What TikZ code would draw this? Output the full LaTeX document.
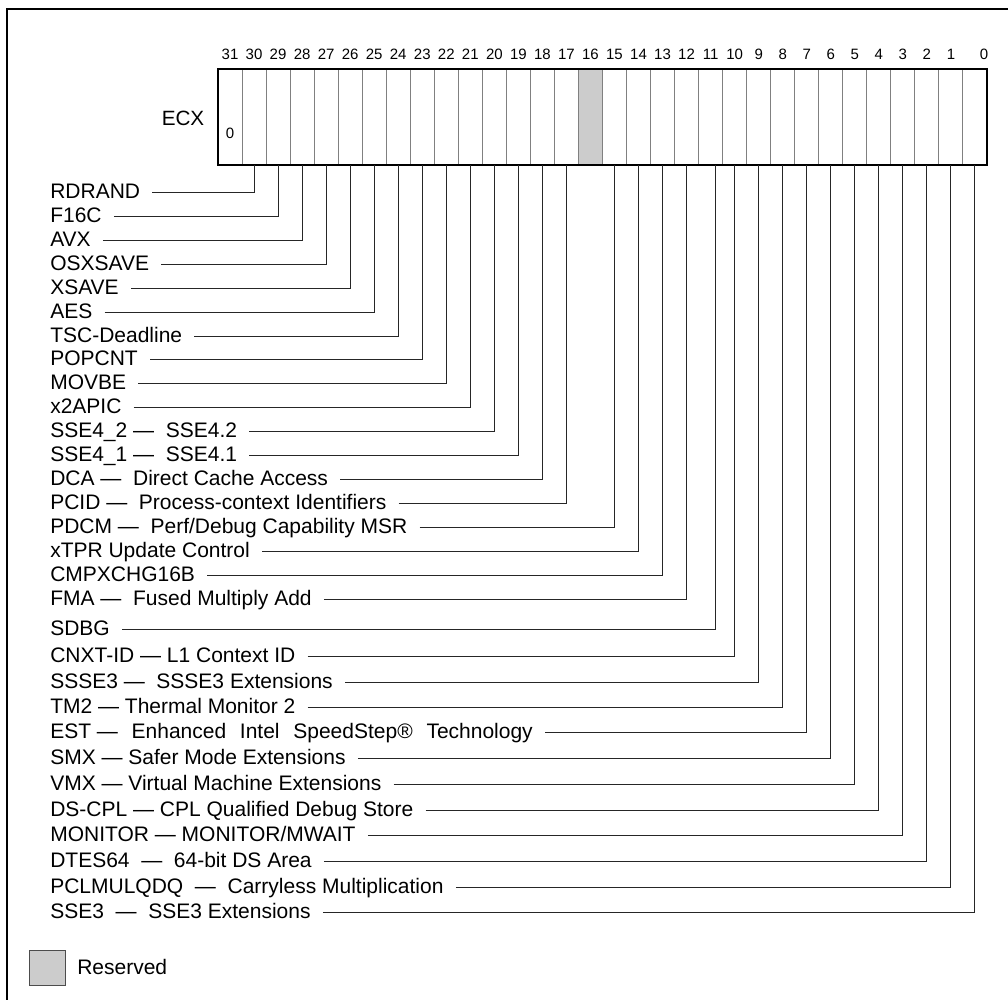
\documentclass[tikz,border=0pt]{standalone}
\usepackage{fontspec}
\setmainfont{Liberation Sans}
\tikzset{
	bitnum/.style={font=\fontsize{11.25}{13}\selectfont, inner sep=0pt},
	feat/.style={anchor=west, inner xsep=9pt, inner ysep=0pt,
		text height=11.25pt, text depth=2.25pt,
		font=\fontsize{15.75}{18}\selectfont},
	wire/.style={draw=black!85, line width=0.75pt},
	cell/.style={draw=black!50, line width=0.75pt},
}
\newcommand{\wgap}{\hspace{10.3pt}}

\begin{document}
\begin{tikzpicture}[x=0.75pt,y=0.75pt,yscale=-1,xscale=1]
\useasboundingbox (0,0) rectangle (1008,1000);

% frame (cut at right and bottom)
\draw [line width=1.7pt]  (7,1000) -- (7,9) -- (1008,9) ;

% register
\fill [gray!40]  (578.5,69) rectangle (602.5,165) ;
\foreach \b in {1,...,31}
	\draw [cell]  ({218+(32-\b)*24.03},69) -- ++(0,96) ;
\draw [line width=1.1pt]  (218,69) rectangle (987,165) ;

\foreach \b in {1,...,31}
	\node [bitnum] (n\b) at ({218+(31.5-\b)*24.03},54) {\b};
\node [bitnum] (n0) at (984,54) {0};
\foreach \b in {0,...,30}
	\coordinate (b\b) at ({218+(31.5-\b)*24.03},165);
\coordinate (b11) at (715,165);

\node [font=\fontsize{15.5}{18}\selectfont] (ecx) at (183,118) {ECX};
\node [bitnum] (zero) at (230,133.5) {0};

% feature flags
\foreach \b/\y/\t in {30/192/RDRAND, 29/216/F16C, 28/240/AVX, 27/264/OSXSAVE,
	26/288/XSAVE, 25/312/AES, 24/336/TSC-Deadline, 23/359.5/POPCNT,
	22/383.5/MOVBE, 21/407.5/x2APIC, 20/431/{SSE4\_2 — ~SSE4.2},
	19/455/{SSE4\_1 — ~SSE4.1}, 18/479/{DCA — ~Direct Cache Access},
	17/503.3/{PCID — ~Process-context Identifiers},
	15/527.7/{PDCM — ~Perf/Debug Capability MSR},
	14/551.7/{xTPR Update Control}, 13/575.7/CMPXCHG16B,
	12/599.7/{FMA — ~Fused Multiply Add}, 11/629/SDBG,
	10/656/{CNXT-ID — L1 Context ID}, 9/682/{SSSE3 — ~SSSE3 Extensions},
	8/707.7/{TM2 — Thermal Monitor 2},
	7/732.7/{EST —\wgap Enhanced\wgap Intel\wgap SpeedStep®\wgap Technology},
	6/758.7/{SMX — Safer Mode Extensions},
	5/784.3/{VMX — Virtual Machine Extensions},
	4/810/{DS-CPL — CPL Qualified Debug Store},
	3/835.7/{MONITOR — MONITOR/MWAIT},
	2/861.3/{DTES64~ — ~64-bit DS Area},
	1/887.3/{PCLMULQDQ~ — ~Carryless Multiplication},
	0/912.3/{SSE3~ — ~SSE3 Extensions}} {
	\node [feat] (f\b) at (38,\y) {\t};
	\draw [wire]  (f\b.east) -| (b\b) ;
}

% legend
\node [draw=black!70, fill=gray!40, line width=0.75pt, inner sep=0pt,
	minimum width=27.3pt, minimum height=26.5pt] (rsvbox) at (47.5,968.3) {};
\node [feat, inner xsep=0pt] (rsv) at (77,968.3) {Reserved};

\end{tikzpicture}
\end{document}
